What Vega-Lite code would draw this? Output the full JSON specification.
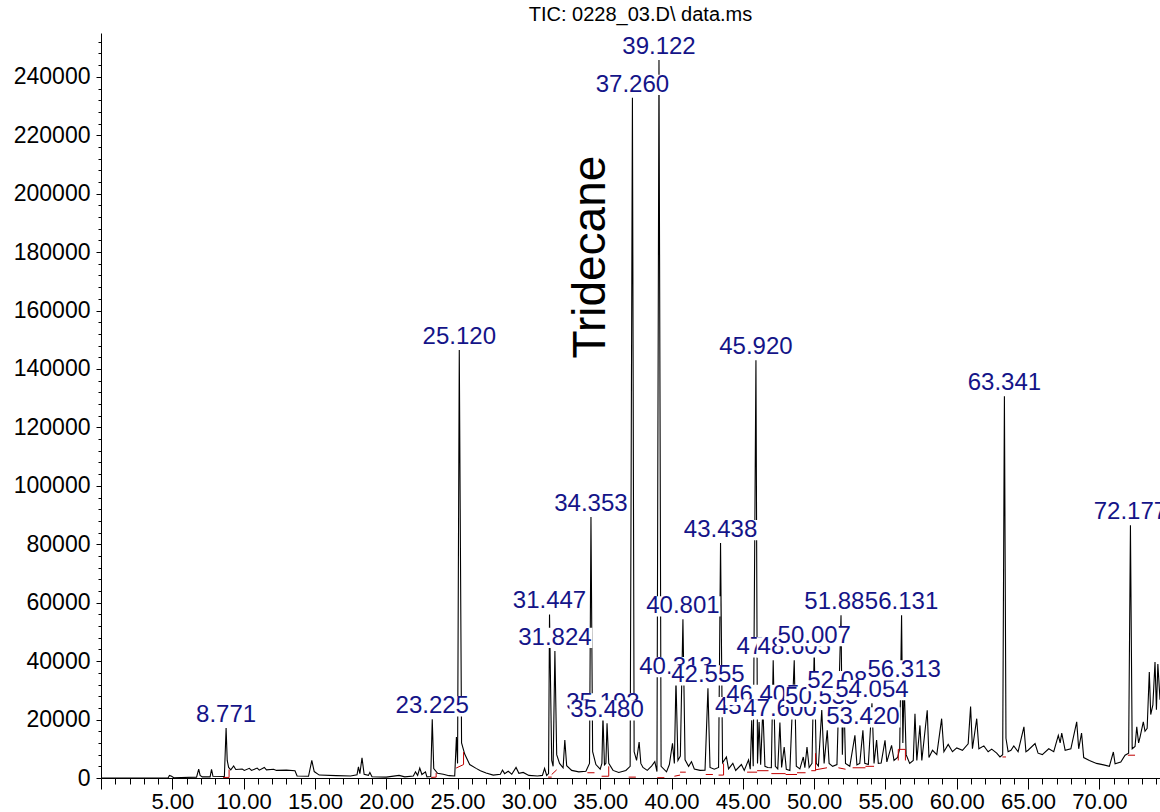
{
"$schema":"https://vega.github.io/schema/vega-lite/v6.json",
"width":1059,"height":745,"autosize":"none",
"padding":{"left":101,"top":33,"right":0,"bottom":34},
"background":"white",
"title":{"text":"TIC: 0228_03.D\\ data.ms","font":"Liberation Sans","fontSize":20,"fontWeight":"normal","color":"black","anchor":"middle","offset":6,"dx":10},
"config":{"view":{"stroke":null}},
"datasets":{
"trace":[{"t":0,"v":0},{"t":4.7,"v":0},{"t":4.8,"v":900},{"t":4.95,"v":600},{"t":5.1,"v":100},{"t":6.7,"v":300},{"t":6.85,"v":3000},{"t":6.95,"v":900},{"t":7.1,"v":400},{"t":7.65,"v":400},{"t":7.75,"v":3000},{"t":7.85,"v":600},{"t":8.65,"v":500},{"t":8.771,"v":17100},{"t":8.85,"v":6000},{"t":8.95,"v":3600},{"t":9.1,"v":2800},{"t":9.3,"v":4100},{"t":9.45,"v":2900},{"t":9.9,"v":3100},{"t":10.05,"v":2600},{"t":10.4,"v":3300},{"t":10.55,"v":2600},{"t":10.95,"v":3400},{"t":11.1,"v":2700},{"t":11.45,"v":3600},{"t":11.6,"v":2800},{"t":12.1,"v":3000},{"t":12.3,"v":2600},{"t":13.0,"v":2700},{"t":13.6,"v":2500},{"t":13.75,"v":700},{"t":14.55,"v":600},{"t":14.78,"v":6000},{"t":14.95,"v":2200},{"t":15.3,"v":1000},{"t":16.5,"v":800},{"t":17.5,"v":700},{"t":17.95,"v":1100},{"t":18.05,"v":3800},{"t":18.15,"v":1500},{"t":18.3,"v":6900},{"t":18.45,"v":1300},{"t":18.75,"v":900},{"t":18.85,"v":1900},{"t":19.0,"v":400},{"t":20.0,"v":300},{"t":20.9,"v":900},{"t":21.3,"v":400},{"t":21.9,"v":700},{"t":22.05,"v":2100},{"t":22.2,"v":900},{"t":22.35,"v":3400},{"t":22.5,"v":1200},{"t":22.75,"v":2100},{"t":22.85,"v":400},{"t":23.12,"v":500},{"t":23.225,"v":20100},{"t":23.33,"v":3200},{"t":23.6,"v":1600},{"t":24.0,"v":1300},{"t":24.4,"v":800},{"t":24.8,"v":700},{"t":24.92,"v":14000},{"t":25.0,"v":5000},{"t":25.12,"v":146500},{"t":25.28,"v":12000},{"t":25.5,"v":8200},{"t":25.85,"v":4600},{"t":26.3,"v":3300},{"t":26.6,"v":2500},{"t":27.0,"v":1700},{"t":27.5,"v":1000},{"t":28.0,"v":1300},{"t":28.15,"v":2700},{"t":28.3,"v":1500},{"t":28.55,"v":2300},{"t":28.8,"v":1300},{"t":29.1,"v":3600},{"t":29.3,"v":1600},{"t":29.6,"v":1900},{"t":30.0,"v":900},{"t":30.6,"v":700},{"t":30.95,"v":900},{"t":31.1,"v":3300},{"t":31.25,"v":900},{"t":31.38,"v":1500},{"t":31.447,"v":56000},{"t":31.6,"v":6000},{"t":31.7,"v":4000},{"t":31.824,"v":43500},{"t":31.95,"v":8000},{"t":32.15,"v":5000},{"t":32.4,"v":3500},{"t":32.52,"v":13000},{"t":32.65,"v":4200},{"t":33.0,"v":2600},{"t":33.5,"v":2100},{"t":34.0,"v":2300},{"t":34.25,"v":5000},{"t":34.353,"v":89300},{"t":34.47,"v":9000},{"t":34.7,"v":4600},{"t":35.0,"v":3000},{"t":35.12,"v":5000},{"t":35.193,"v":21100},{"t":35.3,"v":4500},{"t":35.4,"v":5000},{"t":35.48,"v":18700},{"t":35.6,"v":5000},{"t":35.9,"v":2600},{"t":36.3,"v":1900},{"t":36.8,"v":2600},{"t":37.1,"v":4000},{"t":37.26,"v":232800},{"t":37.38,"v":9000},{"t":37.55,"v":6000},{"t":37.73,"v":12300},{"t":37.85,"v":5000},{"t":38.0,"v":3600},{"t":38.3,"v":2600},{"t":38.6,"v":4100},{"t":38.83,"v":5600},{"t":38.98,"v":2200},{"t":39.122,"v":245800},{"t":39.27,"v":4000},{"t":39.65,"v":2100},{"t":39.85,"v":4600},{"t":40.07,"v":11900},{"t":40.2,"v":5000},{"t":40.313,"v":33500},{"t":40.45,"v":6000},{"t":40.62,"v":7500},{"t":40.801,"v":54300},{"t":40.95,"v":6200},{"t":41.2,"v":4000},{"t":41.4,"v":5600},{"t":41.6,"v":3100},{"t":42.0,"v":2600},{"t":42.35,"v":2700},{"t":42.555,"v":30700},{"t":42.7,"v":3600},{"t":43.0,"v":3000},{"t":43.3,"v":3600},{"t":43.438,"v":80400},{"t":43.58,"v":5200},{"t":43.85,"v":7200},{"t":44.0,"v":3100},{"t":44.3,"v":5000},{"t":44.5,"v":2600},{"t":44.9,"v":4600},{"t":45.1,"v":2600},{"t":45.4,"v":6200},{"t":45.52,"v":3000},{"t":45.623,"v":19800},{"t":45.73,"v":4000},{"t":45.92,"v":143000},{"t":46.03,"v":5000},{"t":46.14,"v":19200},{"t":46.25,"v":4500},{"t":46.405,"v":24000},{"t":46.55,"v":4000},{"t":46.75,"v":3600},{"t":47.0,"v":3500},{"t":47.13,"v":40300},{"t":47.28,"v":4000},{"t":47.45,"v":3100},{"t":47.6,"v":19000},{"t":47.72,"v":3600},{"t":47.9,"v":10600},{"t":48.05,"v":3000},{"t":48.3,"v":2600},{"t":48.605,"v":40300},{"t":48.75,"v":4000},{"t":49.0,"v":3100},{"t":49.24,"v":7200},{"t":49.35,"v":3500},{"t":49.5,"v":10600},{"t":49.65,"v":3600},{"t":49.85,"v":5000},{"t":50.007,"v":44100},{"t":50.15,"v":5000},{"t":50.3,"v":4100},{"t":50.535,"v":23300},{"t":50.7,"v":5000},{"t":50.92,"v":16300},{"t":51.05,"v":5000},{"t":51.3,"v":4000},{"t":51.6,"v":4600},{"t":51.885,"v":55700},{"t":51.98,"v":8000},{"t":52.086,"v":28700},{"t":52.2,"v":5000},{"t":52.5,"v":4000},{"t":52.86,"v":14600},{"t":53.0,"v":4500},{"t":53.2,"v":5000},{"t":53.42,"v":16300},{"t":53.55,"v":5000},{"t":53.8,"v":4600},{"t":54.054,"v":25600},{"t":54.2,"v":5000},{"t":54.38,"v":13000},{"t":54.5,"v":5000},{"t":54.7,"v":5100},{"t":54.97,"v":12900},{"t":55.1,"v":5500},{"t":55.43,"v":11200},{"t":55.6,"v":6000},{"t":55.85,"v":7000},{"t":56.0,"v":10000},{"t":56.131,"v":55700},{"t":56.22,"v":12000},{"t":56.313,"v":32400},{"t":56.45,"v":8000},{"t":56.7,"v":5000},{"t":56.95,"v":6000},{"t":57.07,"v":22000},{"t":57.2,"v":6000},{"t":57.42,"v":18000},{"t":57.55,"v":6000},{"t":57.93,"v":23200},{"t":58.05,"v":7000},{"t":58.3,"v":9500},{"t":58.6,"v":8000},{"t":58.94,"v":20300},{"t":59.1,"v":9000},{"t":59.4,"v":11500},{"t":59.7,"v":9000},{"t":60.0,"v":10300},{"t":60.4,"v":9500},{"t":60.8,"v":11700},{"t":60.97,"v":24500},{"t":61.1,"v":10000},{"t":61.4,"v":20300},{"t":61.55,"v":10000},{"t":61.9,"v":11000},{"t":62.2,"v":9000},{"t":62.45,"v":9900},{"t":62.8,"v":8500},{"t":63.03,"v":7200},{"t":63.22,"v":8000},{"t":63.341,"v":130700},{"t":63.45,"v":13600},{"t":63.6,"v":9000},{"t":63.8,"v":9500},{"t":64.0,"v":11000},{"t":64.3,"v":9000},{"t":64.71,"v":17500},{"t":64.85,"v":9000},{"t":65.0,"v":9500},{"t":65.49,"v":11800},{"t":65.7,"v":8500},{"t":66.0,"v":8000},{"t":66.45,"v":10000},{"t":66.8,"v":9000},{"t":67.12,"v":14600},{"t":67.25,"v":12000},{"t":67.36,"v":15400},{"t":67.6,"v":9500},{"t":68.0,"v":10000},{"t":68.41,"v":19200},{"t":68.55,"v":10000},{"t":68.75,"v":15400},{"t":68.9,"v":7000},{"t":69.3,"v":6000},{"t":69.8,"v":5000},{"t":70.3,"v":4500},{"t":70.7,"v":4000},{"t":70.98,"v":8900},{"t":71.1,"v":4900},{"t":71.5,"v":5500},{"t":71.8,"v":7800},{"t":72.05,"v":8500},{"t":72.177,"v":86500},{"t":72.3,"v":10000},{"t":72.5,"v":10800},{"t":72.62,"v":17500},{"t":72.75,"v":12000},{"t":72.85,"v":14000},{"t":73.08,"v":19200},{"t":73.2,"v":16000},{"t":73.35,"v":17000},{"t":73.5,"v":36300},{"t":73.6,"v":21700},{"t":73.75,"v":25000},{"t":73.9,"v":39700},{"t":74.0,"v":23400},{"t":74.1,"v":39000},{"t":74.25,"v":26800}],
"base":[{"t":8.56,"v":200,"t2":8.98,"v2":200},{"t":8.98,"v":200,"t2":8.98,"v2":2900},{"t":23.15,"v":200,"t2":23.5,"v2":300},{"t":23.5,"v":300,"t2":23.5,"v2":1800},{"t":24.9,"v":3400,"t2":25.42,"v2":4600},{"t":25.42,"v":4600,"t2":25.42,"v2":8900},{"t":31.35,"v":300,"t2":31.6,"v2":300},{"t":31.6,"v":1200,"t2":31.95,"v2":2800},{"t":34.1,"v":1800,"t2":34.6,"v2":1800},{"t":35.1,"v":600,"t2":35.6,"v2":600},{"t":35.6,"v":600,"t2":35.6,"v2":4000},{"t":37.0,"v":300,"t2":37.5,"v2":300},{"t":39.0,"v":100,"t2":39.5,"v2":100},{"t":40.2,"v":600,"t2":40.6,"v2":1000},{"t":40.6,"v":2000,"t2":41.0,"v2":2000},{"t":42.4,"v":1200,"t2":42.9,"v2":1200},{"t":43.3,"v":1000,"t2":43.65,"v2":1000},{"t":43.65,"v":1000,"t2":43.65,"v2":5000},{"t":45.3,"v":2000,"t2":46.0,"v2":2000},{"t":46.0,"v":2500,"t2":46.8,"v2":2500},{"t":47.0,"v":1500,"t2":48.0,"v2":1500},{"t":48.0,"v":1200,"t2":48.8,"v2":1200},{"t":48.8,"v":1800,"t2":49.4,"v2":1800},{"t":49.8,"v":2500,"t2":50.1,"v2":2500},{"t":50.1,"v":2500,"t2":50.1,"v2":8500},{"t":50.1,"v":2800,"t2":50.9,"v2":3500},{"t":51.7,"v":3500,"t2":52.2,"v2":3000},{"t":52.7,"v":3500,"t2":53.6,"v2":3500},{"t":53.6,"v":4000,"t2":54.2,"v2":4000},{"t":55.9,"v":9800,"t2":56.4,"v2":9800},{"t":55.9,"v":6000,"t2":55.9,"v2":9800},{"t":56.4,"v":6000,"t2":56.4,"v2":9800},{"t":63.2,"v":7200,"t2":63.45,"v2":7200},{"t":72.0,"v":7800,"t2":72.5,"v2":7800}],
"peaks":[{"t":8.771,"v":17100,"label":"8.771"},{"t":23.225,"v":20100,"label":"23.225"},{"t":25.12,"v":146500,"label":"25.120"},{"t":31.447,"v":56000,"label":"31.447"},{"t":31.824,"v":43500,"label":"31.824"},{"t":34.353,"v":89300,"label":"34.353"},{"t":35.193,"v":21100,"label":"35.193"},{"t":35.48,"v":18700,"label":"35.480"},{"t":37.26,"v":232800,"label":"37.260"},{"t":39.122,"v":245800,"label":"39.122"},{"t":40.313,"v":33500,"label":"40.313"},{"t":40.801,"v":54300,"label":"40.801"},{"t":42.555,"v":30700,"label":"42.555"},{"t":43.438,"v":80400,"label":"43.438"},{"t":45.623,"v":19800,"label":"45.623"},{"t":45.92,"v":143000,"label":"45.920"},{"t":46.405,"v":24000,"label":"46.405"},{"t":47.13,"v":40300,"label":"47.130"},{"t":47.6,"v":19000,"label":"47.600"},{"t":48.605,"v":40300,"label":"48.605"},{"t":50.007,"v":44100,"label":"50.007"},{"t":50.535,"v":23300,"label":"50.535"},{"t":51.885,"v":55700,"label":"51.885"},{"t":52.086,"v":28700,"label":"52.086"},{"t":53.42,"v":16300,"label":"53.420"},{"t":54.054,"v":25600,"label":"54.054"},{"t":56.131,"v":55700,"label":"56.131"},{"t":56.313,"v":32400,"label":"56.313"},{"t":63.341,"v":130700,"label":"63.341"},{"t":72.177,"v":86500,"label":"72.177"}],
"note":[{"t":34.35,"v":178300,"label":"Tridecane"}]
},
"encoding":{
"x":{"field":"t","type":"quantitative","scale":{"domain":[0,74.25],"nice":false,"zero":false},
"axis":{"title":null,"grid":false,"values":[0,1,2,3,4,5,6,7,8,9,10,11,12,13,14,15,16,17,18,19,20,21,22,23,24,25,26,27,28,29,30,31,32,33,34,35,36,37,38,39,40,41,42,43,44,45,46,47,48,49,50,51,52,53,54,55,56,57,58,59,60,61,62,63,64,65,66,67,68,69,70,71,72,73,74],
"labelExpr":"datum.value > 0 && datum.value % 5 === 0 ? format(datum.value, '.2f') : ''",
"tickSize":{"condition":{"test":"datum.value % 5 === 0","value":11},"value":6},
"labelPadding":2,"labelOverlap":false,"labelFlush":false,"labelBound":false,"labelFont":"Liberation Sans","labelFontSize":22,"labelColor":"black","domainColor":"black","tickColor":"black","domainWidth":1,"tickWidth":1}},
"y":{"field":"v","type":"quantitative","scale":{"domain":[0,255000],"nice":false,"zero":true},
"axis":{"title":null,"grid":false,"values":[0,4000,8000,12000,16000,20000,24000,28000,32000,36000,40000,44000,48000,52000,56000,60000,64000,68000,72000,76000,80000,84000,88000,92000,96000,100000,104000,108000,112000,116000,120000,124000,128000,132000,136000,140000,144000,148000,152000,156000,160000,164000,168000,172000,176000,180000,184000,188000,192000,196000,200000,204000,208000,212000,216000,220000,224000,228000,232000,236000,240000,244000,248000,252000],
"labelExpr":"datum.value % 20000 === 0 ? format(datum.value, 'd') : ''",
"tickSize":{"condition":{"test":"datum.value % 20000 === 0","value":5},"value":3},
"labelPadding":6,"labelOverlap":false,"labelFlush":false,"labelBound":false,"labelFont":"Liberation Sans","labelFontSize":23,"labelColor":"black","domainColor":"black","tickColor":"black","domainWidth":1,"tickWidth":1}}
},
"layer":[
{"data":{"name":"trace"},"mark":{"type":"line","color":"black","strokeWidth":1.1,"clip":true}},
{"data":{"name":"base"},"mark":{"type":"rule","color":"#c00000","strokeWidth":1,"clip":true},"encoding":{"x2":{"field":"t2"},"y2":{"field":"v2"}}},
{"data":{"name":"peaks"},"transform":[{"filter":{"field":"label","oneOf":["8.771","23.225","25.120","31.447","31.824","34.353","37.260","39.122","40.801","43.438","45.920","63.341","72.177"]}}],
"layer":[{"mark":{"type":"point","shape":"M-1,-0.27H1V0.27H-1Z","size":5625,"filled":true,"color":"white","opacity":1,"strokeWidth":0,"yOffset":-13,"clip":true}},
{"mark":{"type":"text","font":"Liberation Sans","fontSize":24,"color":"#141488","baseline":"middle","align":"center","dy":-13,"clip":true},"encoding":{"text":{"field":"label"}}}]},
{"data":{"name":"peaks"},"transform":[{"filter":{"field":"label","equal":"35.193"}}],"layer":[{"mark":{"type":"point","shape":"M-1,-0.27H1V0.27H-1Z","size":5625,"filled":true,"color":"white","opacity":1,"strokeWidth":0,"yOffset":-13}},{"mark":{"type":"text","font":"Liberation Sans","fontSize":24,"color":"#141488","baseline":"middle","align":"center","dy":-13},"encoding":{"text":{"field":"label"}}}]},
{"data":{"name":"peaks"},"transform":[{"filter":{"field":"label","equal":"35.480"}}],"layer":[{"mark":{"type":"point","shape":"M-1,-0.27H1V0.27H-1Z","size":5625,"filled":true,"color":"white","opacity":1,"strokeWidth":0,"yOffset":-13}},{"mark":{"type":"text","font":"Liberation Sans","fontSize":24,"color":"#141488","baseline":"middle","align":"center","dy":-13},"encoding":{"text":{"field":"label"}}}]},
{"data":{"name":"peaks"},"transform":[{"filter":{"field":"label","equal":"40.313"}}],"layer":[{"mark":{"type":"point","shape":"M-1,-0.27H1V0.27H-1Z","size":5625,"filled":true,"color":"white","opacity":1,"strokeWidth":0,"yOffset":-13}},{"mark":{"type":"text","font":"Liberation Sans","fontSize":24,"color":"#141488","baseline":"middle","align":"center","dy":-13},"encoding":{"text":{"field":"label"}}}]},
{"data":{"name":"peaks"},"transform":[{"filter":{"field":"label","equal":"42.555"}}],"layer":[{"mark":{"type":"point","shape":"M-1,-0.27H1V0.27H-1Z","size":5625,"filled":true,"color":"white","opacity":1,"strokeWidth":0,"yOffset":-13}},{"mark":{"type":"text","font":"Liberation Sans","fontSize":24,"color":"#141488","baseline":"middle","align":"center","dy":-13},"encoding":{"text":{"field":"label"}}}]},
{"data":{"name":"peaks"},"transform":[{"filter":{"field":"label","equal":"45.623"}}],"layer":[{"mark":{"type":"point","shape":"M-1,-0.27H1V0.27H-1Z","size":5625,"filled":true,"color":"white","opacity":1,"strokeWidth":0,"yOffset":-13}},{"mark":{"type":"text","font":"Liberation Sans","fontSize":24,"color":"#141488","baseline":"middle","align":"center","dy":-13},"encoding":{"text":{"field":"label"}}}]},
{"data":{"name":"peaks"},"transform":[{"filter":{"field":"label","equal":"46.405"}}],"layer":[{"mark":{"type":"point","shape":"M-1,-0.27H1V0.27H-1Z","size":5625,"filled":true,"color":"white","opacity":1,"strokeWidth":0,"yOffset":-13}},{"mark":{"type":"text","font":"Liberation Sans","fontSize":24,"color":"#141488","baseline":"middle","align":"center","dy":-13},"encoding":{"text":{"field":"label"}}}]},
{"data":{"name":"peaks"},"transform":[{"filter":{"field":"label","equal":"47.130"}}],"layer":[{"mark":{"type":"point","shape":"M-1,-0.27H1V0.27H-1Z","size":5625,"filled":true,"color":"white","opacity":1,"strokeWidth":0,"yOffset":-13}},{"mark":{"type":"text","font":"Liberation Sans","fontSize":24,"color":"#141488","baseline":"middle","align":"center","dy":-13},"encoding":{"text":{"field":"label"}}}]},
{"data":{"name":"peaks"},"transform":[{"filter":{"field":"label","equal":"47.600"}}],"layer":[{"mark":{"type":"point","shape":"M-1,-0.27H1V0.27H-1Z","size":5625,"filled":true,"color":"white","opacity":1,"strokeWidth":0,"yOffset":-13}},{"mark":{"type":"text","font":"Liberation Sans","fontSize":24,"color":"#141488","baseline":"middle","align":"center","dy":-13},"encoding":{"text":{"field":"label"}}}]},
{"data":{"name":"peaks"},"transform":[{"filter":{"field":"label","equal":"48.605"}}],"layer":[{"mark":{"type":"point","shape":"M-1,-0.27H1V0.27H-1Z","size":5625,"filled":true,"color":"white","opacity":1,"strokeWidth":0,"yOffset":-13}},{"mark":{"type":"text","font":"Liberation Sans","fontSize":24,"color":"#141488","baseline":"middle","align":"center","dy":-13},"encoding":{"text":{"field":"label"}}}]},
{"data":{"name":"peaks"},"transform":[{"filter":{"field":"label","equal":"50.007"}}],"layer":[{"mark":{"type":"point","shape":"M-1,-0.27H1V0.27H-1Z","size":5625,"filled":true,"color":"white","opacity":1,"strokeWidth":0,"yOffset":-13}},{"mark":{"type":"text","font":"Liberation Sans","fontSize":24,"color":"#141488","baseline":"middle","align":"center","dy":-13},"encoding":{"text":{"field":"label"}}}]},
{"data":{"name":"peaks"},"transform":[{"filter":{"field":"label","equal":"50.535"}}],"layer":[{"mark":{"type":"point","shape":"M-1,-0.27H1V0.27H-1Z","size":5625,"filled":true,"color":"white","opacity":1,"strokeWidth":0,"yOffset":-13}},{"mark":{"type":"text","font":"Liberation Sans","fontSize":24,"color":"#141488","baseline":"middle","align":"center","dy":-13},"encoding":{"text":{"field":"label"}}}]},
{"data":{"name":"peaks"},"transform":[{"filter":{"field":"label","equal":"51.885"}}],"layer":[{"mark":{"type":"point","shape":"M-1,-0.27H1V0.27H-1Z","size":5625,"filled":true,"color":"white","opacity":1,"strokeWidth":0,"yOffset":-13}},{"mark":{"type":"text","font":"Liberation Sans","fontSize":24,"color":"#141488","baseline":"middle","align":"center","dy":-13},"encoding":{"text":{"field":"label"}}}]},
{"data":{"name":"peaks"},"transform":[{"filter":{"field":"label","equal":"52.086"}}],"layer":[{"mark":{"type":"point","shape":"M-1,-0.27H1V0.27H-1Z","size":5625,"filled":true,"color":"white","opacity":1,"strokeWidth":0,"yOffset":-13}},{"mark":{"type":"text","font":"Liberation Sans","fontSize":24,"color":"#141488","baseline":"middle","align":"center","dy":-13},"encoding":{"text":{"field":"label"}}}]},
{"data":{"name":"peaks"},"transform":[{"filter":{"field":"label","equal":"53.420"}}],"layer":[{"mark":{"type":"point","shape":"M-1,-0.27H1V0.27H-1Z","size":5625,"filled":true,"color":"white","opacity":1,"strokeWidth":0,"yOffset":-13}},{"mark":{"type":"text","font":"Liberation Sans","fontSize":24,"color":"#141488","baseline":"middle","align":"center","dy":-13},"encoding":{"text":{"field":"label"}}}]},
{"data":{"name":"peaks"},"transform":[{"filter":{"field":"label","equal":"54.054"}}],"layer":[{"mark":{"type":"point","shape":"M-1,-0.27H1V0.27H-1Z","size":5625,"filled":true,"color":"white","opacity":1,"strokeWidth":0,"yOffset":-13}},{"mark":{"type":"text","font":"Liberation Sans","fontSize":24,"color":"#141488","baseline":"middle","align":"center","dy":-13},"encoding":{"text":{"field":"label"}}}]},
{"data":{"name":"peaks"},"transform":[{"filter":{"field":"label","equal":"56.131"}}],"layer":[{"mark":{"type":"point","shape":"M-1,-0.27H1V0.27H-1Z","size":5625,"filled":true,"color":"white","opacity":1,"strokeWidth":0,"yOffset":-13}},{"mark":{"type":"text","font":"Liberation Sans","fontSize":24,"color":"#141488","baseline":"middle","align":"center","dy":-13},"encoding":{"text":{"field":"label"}}}]},
{"data":{"name":"peaks"},"transform":[{"filter":{"field":"label","equal":"56.313"}}],"layer":[{"mark":{"type":"point","shape":"M-1,-0.27H1V0.27H-1Z","size":5625,"filled":true,"color":"white","opacity":1,"strokeWidth":0,"yOffset":-13}},{"mark":{"type":"text","font":"Liberation Sans","fontSize":24,"color":"#141488","baseline":"middle","align":"center","dy":-13},"encoding":{"text":{"field":"label"}}}]},
{"data":{"name":"note"},"mark":{"type":"text","font":"Liberation Sans","fontSize":46,"color":"black","angle":270,"baseline":"middle","align":"center"},"encoding":{"text":{"field":"label"}}}
]
}
